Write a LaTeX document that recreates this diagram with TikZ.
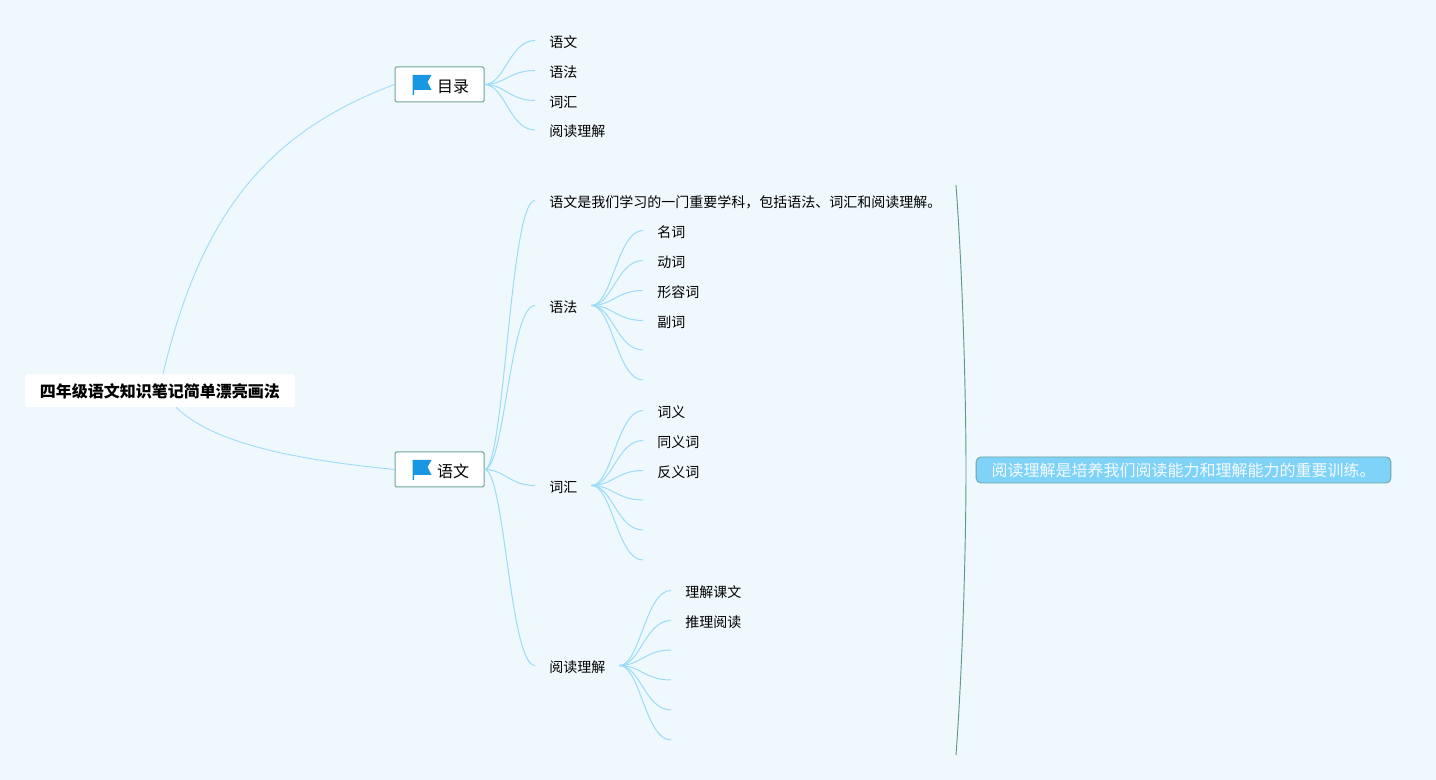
\documentclass[tikz,border=0pt]{standalone}
\usepackage{fontspec}
\setmainfont{Noto Sans CJK SC}
\usetikzlibrary{calc}
\definecolor{bgc}{HTML}{EFF8FC}
\definecolor{linkc}{HTML}{9ADCF6}
\definecolor{framec}{HTML}{6FA39B}
\definecolor{sumc}{HTML}{5E9A86}
\definecolor{fillc}{HTML}{7FD3F8}
\definecolor{flagc}{HTML}{1A97E2}
\tikzset{
  x=0.75pt,y=-0.75pt,
  link/.style={draw=linkc,line width=0.75pt},
  rootlink/.style={draw=linkc,line width=0.65pt},
  rootbox/.style={fill=white,rounded corners=2pt,minimum width=202.5pt,minimum height=24.75pt,inner sep=0pt,text height=10.8pt,text depth=0pt,font=\fontsize{12}{14}\selectfont\bfseries,text=black},
  topicbox/.style={draw=framec,fill=white,rounded corners=1pt,line width=0.75pt,minimum width=66.75pt,minimum height=26.25pt,inner sep=0pt,text height=11.3pt,text depth=0pt,font=\fontsize{12}{14}\selectfont,text=black},
  leaf/.style={anchor=west,inner xsep=10.5pt,inner ysep=0pt,text height=10.2pt,text depth=0pt,font=\fontsize{10.5}{12}\selectfont,text=black},
  sumbox/.style={draw=framec,fill=fillc,rounded corners=3.5pt,line width=0.65pt,minimum width=311pt,minimum height=19.5pt,inner sep=0pt,text height=10.3pt,text depth=0pt,font=\fontsize{12}{14}\selectfont,text=white!92!fillc},
  sumline/.style={draw=sumc,line width=0.7pt},
  flagicon/.pic={
    \fill[flagc] (0,-9.5) -- (19,-9.5) -- (15,-2.5) -- (19,5.5) -- (1.5,5.5) -- (1.5,10.5) -- (0,10.5) -- cycle;
  }
}
\newcommand{\lnk}[2]{\draw[link] let \p1=(#1),\p2=(#2) in (\p1) .. controls (\x1+0.4*\x2-0.4*\x1,\y1) and (\x1+0.5*\x2-0.5*\x1,\y2) .. (\p2);}
\begin{document}
\begin{tikzpicture}
\fill[bgc] (0,0) rectangle (1436,780);
\useasboundingbox (0,0) rectangle (1436,780);

% nodes
\node[rootbox] (root) at (160,390.5) {四年级语文知识笔记简单漂亮画法};
\node[topicbox] (ml) at (439.5,84.5) {\hspace*{20.25pt}目录};
\node[topicbox] (yw) at (439.5,469.5) {\hspace*{20.25pt}语文};
\pic at ($(ml.west)+(18,0)$) {flagicon};
\pic at ($(yw.west)+(18,0)$) {flagicon};

\node[leaf] (a1) at (535,40.5) {语文};
\node[leaf] (a2) at (535,70.5) {语法};
\node[leaf] (a3) at (535,100.5) {词汇};
\node[leaf] (a4) at (535,130) {阅读理解};

\node[leaf] (b1) at (535,200.5) {语文是我们学习的一门重要学科，包括语法、词汇和阅读理解。};
\node[leaf] (b2) at (535,305.5) {语法};
\node[leaf] (b3) at (535,485.5) {词汇};
\node[leaf] (b4) at (535,665.5) {阅读理解};

\node[leaf] (c1) at (643,230.5) {名词};
\node[leaf] (c2) at (643,260.5) {动词};
\node[leaf] (c3) at (643,290.5) {形容词};
\node[leaf] (c4) at (643,320.5) {副词};
\coordinate (c5) at (643,350);
\coordinate (c6) at (643,380);

\node[leaf] (d1) at (643,410.5) {词义};
\node[leaf] (d2) at (643,440.5) {同义词};
\node[leaf] (d3) at (643,470.5) {反义词};
\coordinate (d4) at (643,500);
\coordinate (d5) at (643,530);
\coordinate (d6) at (643,560);

\node[leaf] (e1) at (671,590.5) {理解课文};
\node[leaf] (e2) at (671,620.5) {推理阅读};
\coordinate (e3) at (671,650);
\coordinate (e4) at (671,680);
\coordinate (e5) at (671,710);
\coordinate (e6) at (671,740);

\node[sumbox] (s) at (1183.5,470) {阅读理解是培养我们阅读能力和理解能力的重要训练。};
\coordinate (brt) at (956,185);
\coordinate (brm) at (966,470);
\coordinate (brb) at (956,755);

% connectors
\draw[rootlink] ([xshift=2.25pt]root.north) .. controls (200,220) and (262,134) .. (ml.west);
\draw[rootlink] ([xshift=12pt]root.south) .. controls (215,445) and (300,460) .. (yw.west);

\foreach \t in {a1,a2,a3,a4} {\lnk{ml.east}{\t.west}}
\foreach \t in {b1,b2,b3,b4} {\lnk{yw.east}{\t.west}}
\foreach \t in {c1,c2,c3,c4} {\lnk{b2.east}{\t.west}}
\foreach \t in {c5,c6} {\lnk{b2.east}{\t}}
\foreach \t in {d1,d2,d3} {\lnk{b3.east}{\t.west}}
\foreach \t in {d4,d5,d6} {\lnk{b3.east}{\t}}
\foreach \t in {e1,e2} {\lnk{b4.east}{\t.west}}
\foreach \t in {e3,e4,e5,e6} {\lnk{b4.east}{\t}}

\draw[sumline] (brt) .. controls (963,280) and (966,400) .. (brm) .. controls (966,540) and (963,660) .. (brb);
\end{tikzpicture}
\end{document}
